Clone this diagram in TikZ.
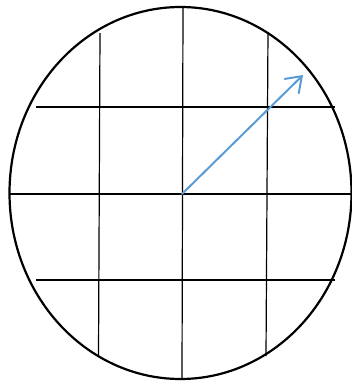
\documentclass[tikz,border=0pt]{standalone}
\usepackage{tikz}
\usetikzlibrary{arrows.meta}
\definecolor{vecblue}{RGB}{91,155,213}
\tikzset{
  rim/.style   ={draw=black, line width=2.2pt},
  gridln/.style={draw=black, line width=1.2pt},
  vec/.style   ={-{Straight Barb[length=14pt, width=20pt, line cap=round]},
                 draw=vecblue, line width=2pt, line cap=round}
}
\begin{document}
\begin{tikzpicture}[x=1pt, y=-1pt]
  \useasboundingbox (0,0) rectangle (352,381);
  \coordinate (o) at (182,194);
  \coordinate (tip) at (303,75);
  \draw[gridln] (36,107) -- (335,107);
  \draw[gridln] (10,194) -- (351,194);
  \draw[gridln] (36,280) -- (335,280);
  \draw[gridln] (100,33) -- (98.5,356);
  \draw[gridln] (183,7) -- (182,379);
  \draw[gridln] (268,32) -- (266,356);
  \draw[rim] (180.5,193) ellipse [x radius=171, y radius=186];
  \draw[vec] (o) -- (tip);
\end{tikzpicture}
\end{document}
